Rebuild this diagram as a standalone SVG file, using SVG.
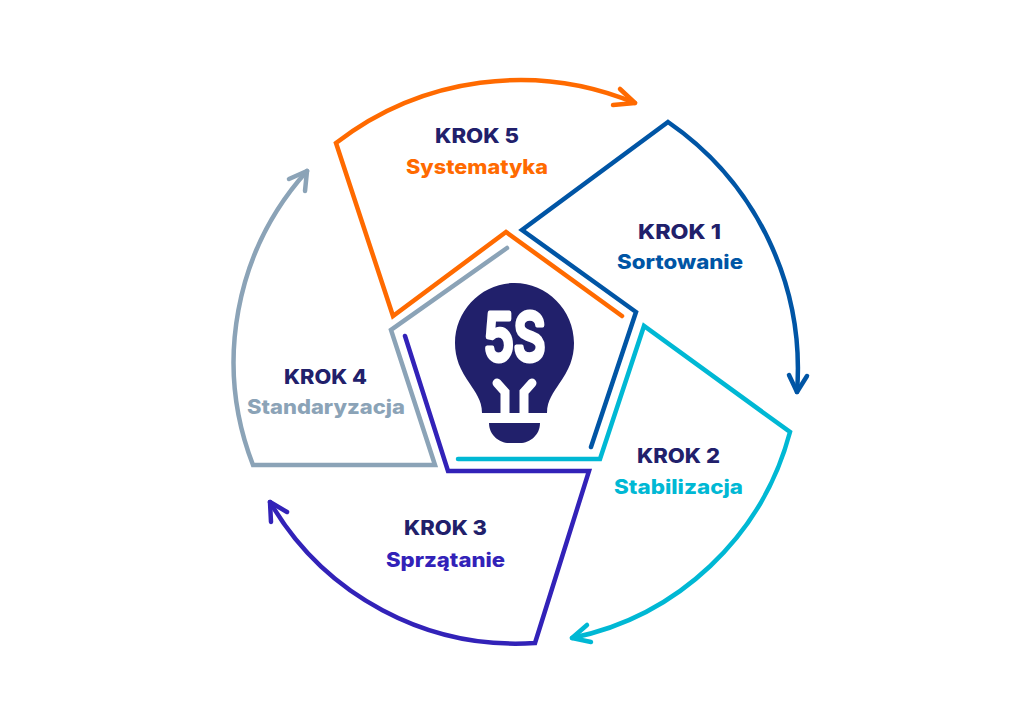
<svg xmlns="http://www.w3.org/2000/svg" width="1024" height="718" viewBox="0 0 1024 718">
  <style>
    .seg { fill: none; stroke-width: 4.500; stroke-linejoin: miter; stroke-linecap: round; }
    .head { fill: none; stroke-width: 4.500; stroke-linecap: round; stroke-linejoin: round; }
    text { font-family: "Inter", "Liberation Sans", sans-serif; font-weight: 800; text-anchor: middle; font-size: 20px; }
    .step { fill: #21206b; }
    .c1 { stroke: #0055a5; } .t1 { fill: #0055a5; }
    .c2 { stroke: #00b8d4; } .t2 { fill: #00b8d4; }
    .c3 { stroke: #3222b8; } .t3 { fill: #3222b8; }
    .c4 { stroke: #8ba3b7; } .t4 { fill: #8ba3b7; }
    .c5 { stroke: #ff6a00; } .t5 { fill: #ff6a00; }
  </style>
  <rect width="1024" height="718" fill="#ffffff"/>
  <g id="connectors">
    <path class="seg c4" d="M507 248L391 330L435 465L253 465A285 285 0 0 1 307 171"/>
    <path class="head c4" d="M289 179L307 171L305 191"/>
    <path class="seg c3" d="M405 336L448 471L589 471L535 643A285 285 0 0 1 270 502"/>
    <path class="head c3" d="M271 522L270 502L287 512"/>
    <path class="seg c2" d="M458 459L600 459L644 326L790 432A285 285 0 0 1 572 638"/>
    <path class="head c2" d="M587 625L572 638L591 642"/>
    <path class="seg c1" d="M591 447L636 312L522 230L668 122A300 300 0 0 1 797 392"/>
    <path class="head c1" d="M789 375L797 392L807 376"/>
    <path class="seg c5" d="M622 316L506 232L393 316L336 143A300 300 0 0 1 635 103"/>
    <path class="head c5" d="M620 89L635 103L613 105"/>
  </g>
  <g id="bulb">
    <path fill="#21206b" d="M482 413C482 400 475 392 470 384C460 370 455 358 455 343C455 310 482 283 514.500 283C547 283 574 310 574 343C574 358 569 370 559 384C554 392 547 400 547 413Z"/>
    <path fill="#21206b" d="M489 423L540 423C540 435 530 443 520 443L509 443C499 443 489 435 489 423Z"/>
    <path d="M497 383L505 392L505 413M532 383L524 392L524 413" fill="none" stroke="#ffffff" stroke-width="9" stroke-linecap="round"/>
    <text x="514.500" y="359.500" fill="#ffffff" stroke="#ffffff" stroke-width="5" stroke-linejoin="round" textLength="62" lengthAdjust="spacingAndGlyphs" style="font-size:64px;font-weight:500">5S</text>
  </g>
  <g id="step-1"><text class="step" x="679.500" y="239" textLength="83" lengthAdjust="spacingAndGlyphs">KROK 1</text><text class="t1" x="680" y="269" textLength="126" lengthAdjust="spacingAndGlyphs">Sortowanie</text></g>
  <g id="step-2"><text class="step" x="678.500" y="463" textLength="83" lengthAdjust="spacingAndGlyphs">KROK 2</text><text class="t2" x="678.500" y="494" textLength="129" lengthAdjust="spacingAndGlyphs">Stabilizacja</text></g>
  <g id="step-3"><text class="step" x="445.500" y="535" textLength="83" lengthAdjust="spacingAndGlyphs">KROK 3</text><text class="t3" x="445.500" y="567" textLength="119" lengthAdjust="spacingAndGlyphs">Sprzątanie</text></g>
  <g id="step-4"><text class="step" x="325.500" y="384" textLength="83" lengthAdjust="spacingAndGlyphs">KROK 4</text><text class="t4" x="326" y="414" textLength="158" lengthAdjust="spacingAndGlyphs">Standaryzacja</text></g>
  <g id="step-5"><text class="step" x="477" y="143" textLength="84" lengthAdjust="spacingAndGlyphs">KROK 5</text><text class="t5" x="477" y="174" textLength="142" lengthAdjust="spacingAndGlyphs">Systematyka</text></g>
</svg>
